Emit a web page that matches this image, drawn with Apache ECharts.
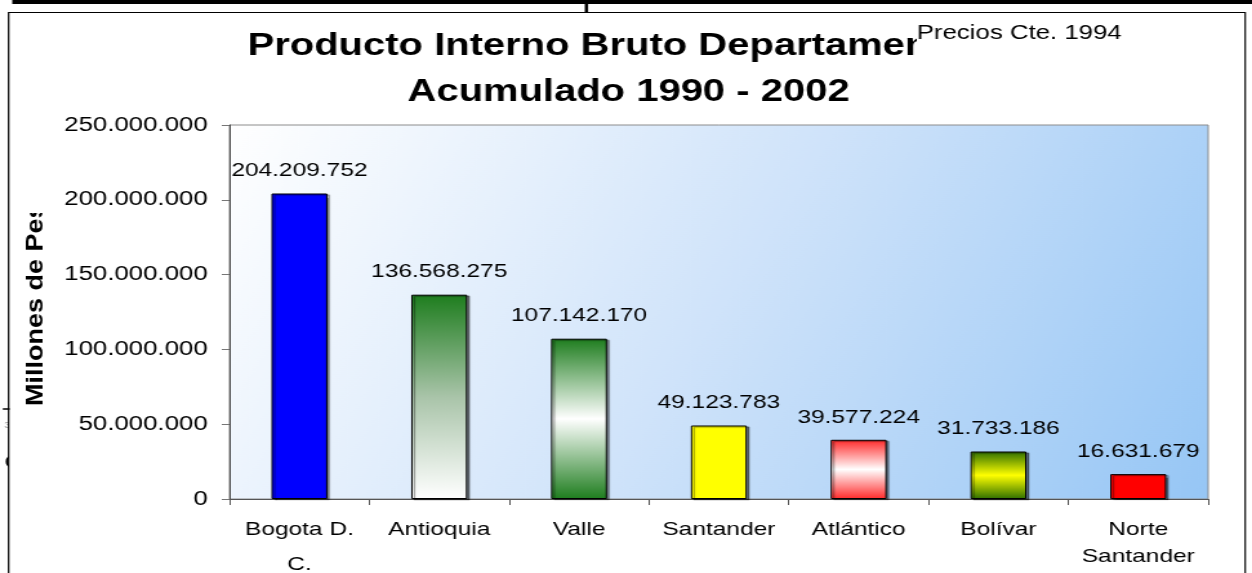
<!DOCTYPE html>
<html lang="es">
<head>
<meta charset="UTF-8">
<title>PIB Departamental</title>
<script src="https://cdn.jsdelivr.net/npm/echarts@6/dist/echarts.min.js"></script>
<style>
  html, body { margin: 0; padding: 0; background: #fff; overflow: hidden; }
  /* el grafico original esta estirado en horizontal */
  #box { width: 971px; height: 573px; transform: scaleX(1.2894); transform-origin: 0 0; }
</style>
</head>
<body>
<div id="box"></div>
<script>
  // datos
  const departamentos = ['Bogota D.\nC.', 'Antioquia', 'Valle', 'Santander', 'Atlántico', 'Bolívar', 'Norte\nSantander'];
  const pib = [204209752, 136568275, 107142170, 49123783, 39577224, 31733186, 16631679];
  const yTicks = [0, 50000000, 100000000, 150000000, 200000000, 250000000];

  // rellenos de cada barra (de arriba hacia abajo)
  function grad(stops) {
    return { type: 'linear', x: 0, y: 0, x2: 0, y2: 1,
      colorStops: stops.map(s => ({ offset: s[0], color: s[1] })) };
  }
  const rellenos = [
    '#0000ff',
    grad([[0, '#1e7d1e'], [0.5, '#a9c4a9'], [1, '#ffffff']]),
    grad([[0, '#1e7d1e'], [0.5, '#ffffff'], [1, '#1e7d1e']]),
    '#ffff00',
    grad([[0, '#ff2a2a'], [0.5, '#ffffff'], [1, '#ff2a2a']]),
    grad([[0, '#2f6f00'], [0.5, '#ffff00'], [1, '#2f6f00']]),
    '#ff0000'
  ];

  function puntos(v) {
    return String(v).replace(/\B(?=(\d{3})+(?!\d))/g, '.');
  }

  const fuente = "'Liberation Sans', Arial, sans-serif";
  var myChart = echarts.init(document.getElementById('box'));

  var option = {
    animation: false,
    textStyle: { fontFamily: fuente, color: '#000' },
    title: [
      { text: 'Producto Interno Bruto Departamen', left: 192, top: 31, padding: 0, z: 6,
        textStyle: { fontFamily: fuente, fontSize: 31, fontWeight: 'bold', color: '#000' } },
      { text: 'Acumulado 1990 - 2002', left: 316, top: 77, padding: 0, z: 6,
        textStyle: { fontFamily: fuente, fontSize: 31, fontWeight: 'bold', color: '#000' } },
      { text: 'Precios Cte. 1994', left: 711, top: 23, padding: [0, 4, 18, 0], z: 8,
        backgroundColor: '#fff',
        textStyle: { fontFamily: fuente, fontSize: 20, fontWeight: 'normal', color: '#000' } }
    ],
    grid: {
      left: 178, right: 34, top: 125, bottom: 74,
      outerBoundsMode: 'none',
      show: true,
      borderColor: '#8c8c8c',
      borderWidth: 1,
      backgroundColor: { type: 'linear', x: 0, y: 0, x2: 1, y2: 1,
        colorStops: [{ offset: 0, color: '#ffffff' }, { offset: 0.5, color: '#cfe3fa' }, { offset: 1, color: '#96c6f5' }] }
    },
    xAxis: {
      type: 'category',
      data: departamentos,
      axisLine: { lineStyle: { color: '#555', width: 1 } },
      axisTick: { show: true, length: 6, lineStyle: { color: '#555' } },
      axisLabel: {
        margin: 17, fontSize: 19, lineHeight: 27, color: '#000', interval: 0,
        formatter: function (v) {
          return v === 'Bogota D.\nC.' ? '{a|Bogota D.}\n{b|C.}' : v;
        },
        rich: {
          a: { fontSize: 19, lineHeight: 27, color: '#000', fontFamily: fuente },
          b: { fontSize: 19, lineHeight: 43, color: '#000', fontFamily: fuente }
        }
      }
    },
    yAxis: {
      type: 'value',
      min: yTicks[0],
      max: yTicks[yTicks.length - 1],
      interval: yTicks[1] - yTicks[0],
      splitLine: { show: false },
      axisLine: { show: true, lineStyle: { color: '#444', width: 1 } },
      axisTick: { show: true, length: 6, lineStyle: { color: '#777' } },
      axisLabel: { margin: 17, fontSize: 20, color: '#000', formatter: puntos }
    },
    series: [{
      type: 'bar',
      barWidth: '40%',
      data: pib.map((v, i) => ({ value: v, itemStyle: { color: rellenos[i] } })),
      itemStyle: {
        borderColor: '#000', borderWidth: 1,
        shadowColor: 'rgba(0,0,0,0.45)', shadowBlur: 1, shadowOffsetX: 2, shadowOffsetY: 1
      },
      label: {
        show: true, position: 'top', distance: 13,
        fontSize: 19, color: '#000',
        formatter: p => puntos(p.value)
      }
    }],
    graphic: [
      // marco exterior
      { type: 'rect', z: -10, shape: { x: 6.7, y: 12.5, width: 959, height: 600 },
        style: { fill: '#fff', stroke: '#000', lineWidth: 1.2 } },
      // restos de contenido cortado a la izquierda y arriba
      { type: 'text', z: -20, x: 3.6, y: 463, style: { text: 'C', fontSize: 18, fontFamily: fuente, fill: '#000', verticalAlign: 'middle' } },
      { type: 'text', z: -20, x: 3.2, y: 426, style: { text: '3', fontSize: 9, fontFamily: fuente, fill: '#999', verticalAlign: 'middle' } },
      { type: 'line', z: 5, shape: { x1: 2.2, y1: 409, x2: 7.5, y2: 409 }, style: { stroke: '#000', lineWidth: 1.5 } },
      { type: 'rect', z: 5, shape: { x: 9.5, y: 0, width: 1000, height: 4 }, style: { fill: '#000' } },
      { type: 'rect', z: 5, shape: { x: 453.5, y: 4, width: 2.6, height: 9 }, style: { fill: '#000' } },
      // titulo del eje (recortado arriba)
      { type: 'text', z: 3, x: 28, y: 406, rotation: Math.PI / 2, scaleX: 1.5,
        style: { text: 'Millones de Pesos', fontSize: 18, fontWeight: 'bold', fontFamily: fuente,
          fill: '#000', align: 'left', verticalAlign: 'middle' } },
      { type: 'rect', z: 4, shape: { x: 15, y: 130, width: 24, height: 83 }, style: { fill: '#fff' } }
    ]
  };

  myChart.setOption(option);
</script>
</body>
</html>
